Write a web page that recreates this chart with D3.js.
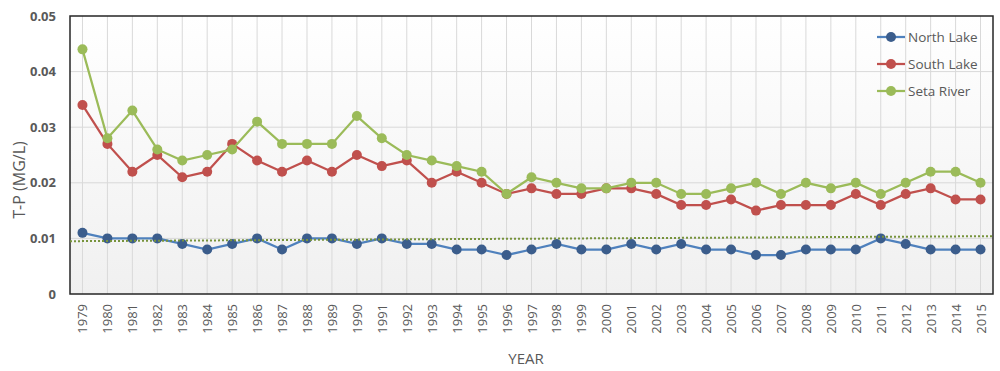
<!DOCTYPE html>
<html><head><meta charset="utf-8">
<script src="https://cdn.jsdelivr.net/npm/d3@7"></script>
<style>body{margin:0;background:#fff;}svg{display:block;font-family:"Open Sans","Noto Sans",sans-serif;}</style>
</head><body>
<svg id="c" width="1000" height="371"></svg>
<script>
const years = d3.range(1979, 2016).map(String);
const northLake = [0.011,0.010,0.010,0.010,0.009,0.008,0.009,0.010,0.008,0.010,0.010,0.009,0.010,0.009,0.009,0.008,0.008,0.007,0.008,0.009,0.008,0.008,0.009,0.008,0.009,0.008,0.008,0.007,0.007,0.008,0.008,0.008,0.010,0.009,0.008,0.008,0.008];
const southLake = [0.034,0.027,0.022,0.025,0.021,0.022,0.027,0.024,0.022,0.024,0.022,0.025,0.023,0.024,0.020,0.022,0.020,0.018,0.019,0.018,0.018,0.019,0.019,0.018,0.016,0.016,0.017,0.015,0.016,0.016,0.016,0.018,0.016,0.018,0.019,0.017,0.017];
const setaRiver = [0.044,0.028,0.033,0.026,0.024,0.025,0.026,0.031,0.027,0.027,0.027,0.032,0.028,0.025,0.024,0.023,0.022,0.018,0.021,0.020,0.019,0.019,0.020,0.020,0.018,0.018,0.019,0.020,0.018,0.020,0.019,0.020,0.018,0.020,0.022,0.022,0.020];
const trendEnds = [0.0095, 0.0104];
const yTicks = [0, 0.01, 0.02, 0.03, 0.04, 0.05];
const yTickLabels = ["0", "0.01", "0.02", "0.03", "0.04", "0.05"];
const seriesNames = ["North Lake", "South Lake", "Seta River"];

const series = [
  {name: seriesNames[0], values: northLake, line: "#4f81bd", dot: "#3b5d8c"},
  {name: seriesNames[1], values: southLake, line: "#c0504d", dot: "#c0504d"},
  {name: seriesNames[2], values: setaRiver, line: "#9bbb59", dot: "#9bbb59"}
];

const svg = d3.select("#c");
const L = 70, R = 993, T = 16, B = 294;
const x = d3.scaleBand().domain(years).range([L, R]);
const y = d3.scaleLinear().domain([0, 0.05]).range([B, T]);
const cx = d => x(d) + x.bandwidth() / 2;

const defs = svg.append("defs");
const g = defs.append("linearGradient").attr("id", "bg").attr("x1", 0).attr("y1", 0).attr("x2", 0).attr("y2", 1);
g.append("stop").attr("offset", "0%").attr("stop-color", "#ffffff");
g.append("stop").attr("offset", "100%").attr("stop-color", "#f0f0f0");
svg.append("rect").attr("x", L).attr("y", T).attr("width", R - L).attr("height", B - T).attr("fill", "url(#bg)");

// gridlines
svg.append("g").selectAll("line").data(yTicks.slice(1, -1)).join("line")
  .attr("x1", L).attr("x2", R).attr("y1", d => y(d)).attr("y2", d => y(d))
  .attr("stroke", "#d9d9d9").attr("stroke-width", 1);
svg.append("g").selectAll("line").data(years).join("line")
  .attr("x1", d => cx(d)).attr("x2", d => cx(d)).attr("y1", T).attr("y2", B)
  .attr("stroke", "#d9d9d9").attr("stroke-width", 1);

// frame
svg.append("rect").attr("x", L).attr("y", T).attr("width", R - L).attr("height", B - T)
  .attr("fill", "none").attr("stroke", "#262626").attr("stroke-width", 1.5);

// y axis labels
svg.append("g").selectAll("text").data(yTicks).join("text")
  .attr("x", 56).attr("y", d => y(d)).attr("dy", "0.35em").attr("text-anchor", "end")
  .attr("font-size", 13).attr("font-weight", "bold").attr("fill", "#595959")
  .text((d, i) => yTickLabels[i]);

// x axis labels
svg.append("g").selectAll("text").data(years).join("text")
  .attr("transform", d => `translate(${cx(d) + 5},${B + 10}) rotate(-90)`)
  .attr("text-anchor", "end").attr("font-size", 13).attr("fill", "#595959")
  .text(d => d);

// axis titles
svg.append("text").attr("transform", `translate(25,180) rotate(-90)`)
  .attr("text-anchor", "middle").attr("font-size", 16).attr("fill", "#595959").text("T-P (MG/L)");
svg.append("text").attr("x", 526).attr("y", 364).attr("text-anchor", "middle")
  .attr("font-size", 15).attr("fill", "#595959").text("YEAR");

// series
const line = d3.line().x((d, i) => cx(years[i])).y(d => y(d));
series.forEach(s => {
  svg.append("path").datum(s.values).attr("d", line).attr("fill", "none")
    .attr("stroke", s.line).attr("stroke-width", 2.25);
  svg.append("g").selectAll("circle").data(s.values).join("circle")
    .attr("cx", (d, i) => cx(years[i])).attr("cy", d => y(d)).attr("r", 5).attr("fill", s.dot);
});

// trend line
svg.append("line").attr("x1", L).attr("x2", R).attr("y1", y(trendEnds[0])).attr("y2", y(trendEnds[1]))
  .attr("stroke", "#77933c").attr("stroke-width", 2).attr("stroke-dasharray", "2,2");

// legend
const lg = svg.append("g");
series.forEach((s, i) => {
  const yy = 37 + i * 27;
  lg.append("line").attr("x1", 877).attr("x2", 905).attr("y1", yy).attr("y2", yy)
    .attr("stroke", s.line).attr("stroke-width", 2.25);
  lg.append("circle").attr("cx", 891).attr("cy", yy).attr("r", 5).attr("fill", s.dot);
  lg.append("text").attr("x", 908).attr("y", yy).attr("dy", "0.35em")
    .attr("font-size", 13.5).attr("fill", "#595959").text(s.name);
});
</script>
</body></html>
